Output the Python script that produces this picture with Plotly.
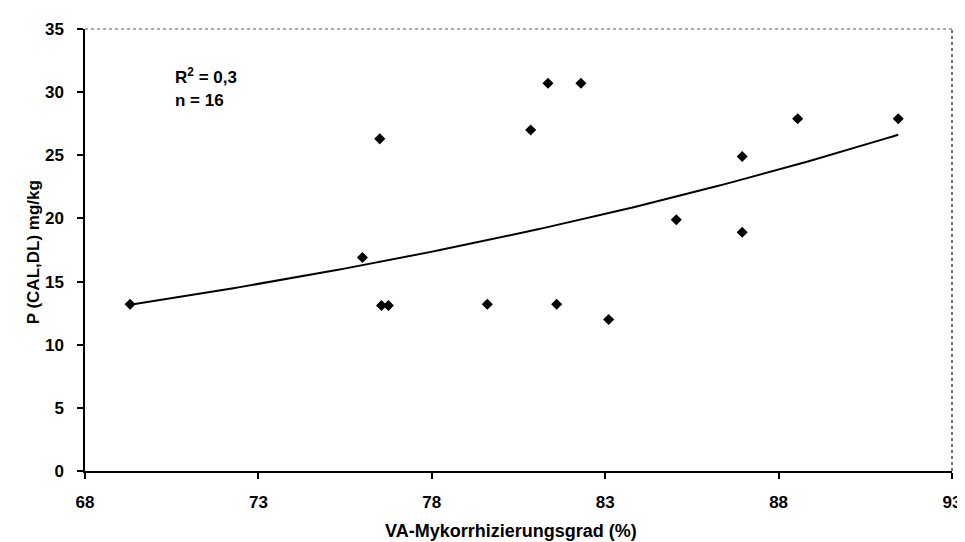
import numpy as np
import plotly.graph_objects as go

# Data
mykorrhiza = [69.3, 76.5, 76.0, 76.55, 76.75, 81.35, 82.3, 80.85, 79.6, 81.6,
              83.1, 85.05, 86.95, 86.95, 88.55, 91.45]
p_cal = [13.2, 26.3, 16.9, 13.1, 13.1, 30.7, 30.7, 27.0, 13.2, 13.2,
         12.0, 19.9, 24.9, 18.9, 27.9, 27.9]
x_ticks = [68, 73, 78, 83, 88, 93]
y_ticks = [0, 5, 10, 15, 20, 25, 30, 35]
stats_lines = ["R<sup>2</sup> = 0,3", "n = 16"]

# Exponential trendline (least squares on ln y, as in a spreadsheet trendline)
xa = np.array(mykorrhiza)
ya = np.array(p_cal)
b, ln_a = np.polyfit(xa, np.log(ya), 1)
xt = np.linspace(xa.min(), xa.max(), 120)
yt = np.exp(ln_a + b * xt)

FONT = "Arial, Liberation Sans, Helvetica, sans-serif"

fig = go.Figure()
fig.add_trace(go.Scatter(x=xt, y=yt, mode="lines",
                         line=dict(color="black", width=2), hoverinfo="skip",
                         showlegend=False))
fig.add_trace(go.Scatter(x=mykorrhiza, y=p_cal, mode="markers",
                         marker=dict(symbol="diamond", size=8.5, color="black"),
                         showlegend=False))

L, R, T, B = 77, 15, 17, 79
W, H = 965, 542
pw, ph = W - L - R, H - T - B

def px_x(px):
    return (px - L) / pw

def px_y(py):
    return (H - B - py) / ph

axis_common = dict(showgrid=False, zeroline=False, showline=True,
                   linecolor="black", linewidth=1.5, ticks="outside",
                   ticklen=6, tickwidth=1.5, tickcolor="black",
                   tickfont=dict(family=FONT, size=17, color="black", weight="bold"))

fig.update_layout(
    width=W, height=H,
    margin=dict(l=L, r=R, t=T, b=B),
    paper_bgcolor="white", plot_bgcolor="white",
    xaxis=dict(range=[68, 93], tickvals=x_ticks,
               ticktext=[str(v) for v in x_ticks], ticklabelstandoff=9,
               **axis_common),
    yaxis=dict(range=[0, 35], tickvals=y_ticks,
               ticktext=[str(v) for v in y_ticks], ticklabelstandoff=10,
               **axis_common),
    shapes=[
        dict(type="line", xref="paper", yref="paper", x0=0, x1=1, y0=1, y1=1,
             line=dict(color="#555555", width=1.2, dash="dot")),
        dict(type="line", xref="paper", yref="paper", x0=1, x1=1, y0=0, y1=1,
             line=dict(color="#444444", width=1.5, dash="dot")),
    ],
    annotations=[
        dict(text=stats_lines[0], xref="paper", yref="paper",
             x=px_x(166), y=px_y(64), xanchor="left", yanchor="middle",
             showarrow=False, font=dict(family=FONT, size=17, color="black", weight="bold")),
        dict(text=stats_lines[1], xref="paper", yref="paper",
             x=px_x(166), y=px_y(89), xanchor="left", yanchor="middle",
             showarrow=False, font=dict(family=FONT, size=17, color="black", weight="bold")),
        dict(text="VA-Mykorrhizierungsgrad (%)", xref="paper", yref="paper",
             x=px_x(506), y=px_y(524), xanchor="center", yanchor="middle",
             showarrow=False, font=dict(family=FONT, size=18, color="black", weight="bold")),
        dict(text="P (CAL,DL) mg/kg", xref="paper", yref="paper",
             x=px_x(26), y=px_y(242), xanchor="center", yanchor="middle",
             textangle=-90,
             showarrow=False, font=dict(family=FONT, size=17, color="black", weight="bold")),
    ],
)

fig.write_html("out.html")
